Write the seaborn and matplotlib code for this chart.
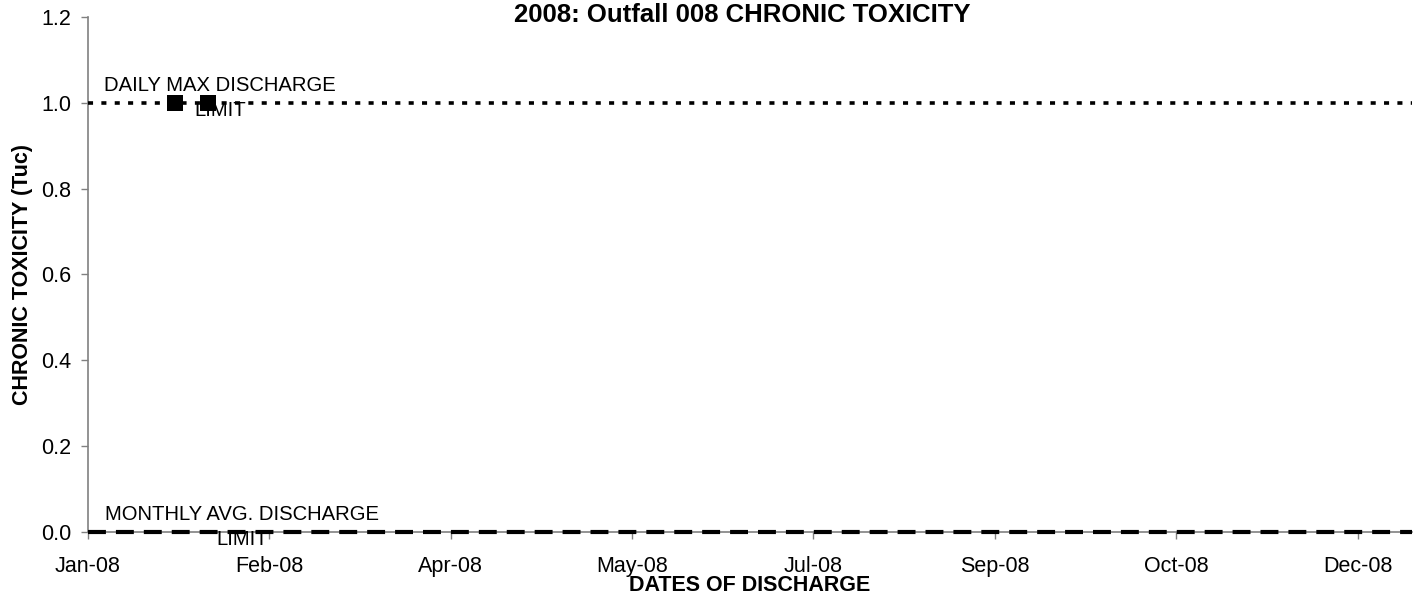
import numpy as np
import pandas as pd
import matplotlib
matplotlib.use("Agg")
from matplotlib import pyplot as plt
import matplotlib.dates as mdates
import seaborn as sns

# data
sample_dates = ["2008-01-25", "2008-02-03"]
toxicity_tuc = [1.0, 1.0]
axis_start = "2008-01-01"
axis_end = "2008-12-31"
daily_max_limit = 1.0
monthly_avg_limit = 0.0
tick_step_days = 50

sns.set_theme(style="white")
plt.rcParams['font.family'] = ['Liberation Sans', 'DejaVu Sans']
plt.rcParams['text.color'] = 'black'
plt.rcParams['axes.labelcolor'] = 'black'

fig = plt.figure(figsize=(14.14, 5.96), dpi=100)
ax = fig.add_axes([0.0622, 0.1074, 0.9364, 0.8641])

samples = pd.DataFrame({"date": pd.to_datetime(sample_dates), "tuc": toxicity_tuc})
limit_x = pd.to_datetime([axis_start, axis_end])
daily = pd.DataFrame({"date": limit_x, "value": [daily_max_limit] * 2})
monthly = pd.DataFrame({"date": limit_x, "value": [monthly_avg_limit] * 2})

sns.lineplot(data=daily, x="date", y="value", color="black", linewidth=2.6,
             linestyle=(0, (1.4, 2.3)), ax=ax, zorder=3, clip_on=False)
sns.lineplot(data=monthly, x="date", y="value", color="black", linewidth=3,
             linestyle=(0, (4.3, 2.4)), ax=ax, zorder=3, clip_on=False)
sns.scatterplot(data=samples, x="date", y="tuc", marker="s", s=128, color="black",
                edgecolor="black", linewidth=0, ax=ax, zorder=4, clip_on=False)

ax.annotate("DAILY MAX DISCHARGE\nLIMIT", (pd.Timestamp("2008-02-06 12:00"), daily_max_limit),
            xytext=(0, 3.5), textcoords="offset points", ha="center", va="center",
            fontsize=14.6, linespacing=1.36, zorder=5)
ax.annotate("MONTHLY AVG. DISCHARGE\nLIMIT", (pd.Timestamp("2008-02-12 12:00"), monthly_avg_limit),
            xytext=(0, 3.5), textcoords="offset points", ha="center", va="center",
            fontsize=14.6, linespacing=1.36, zorder=5)

ax.set_xlim(pd.Timestamp(axis_start), pd.Timestamp(axis_end))
ax.set_ylim(0, 1.2)
ticks = pd.date_range(axis_start, axis_end, freq=f"{tick_step_days}D")
ax.set_xticks(ticks)
ax.xaxis.set_major_formatter(mdates.DateFormatter("%b-%y"))
ax.set_yticks(np.arange(0, 1.21, 0.2))
ax.yaxis.set_major_formatter(matplotlib.ticker.FormatStrFormatter("%.1f"))

for side in ["top", "right"]:
    ax.spines[side].set_visible(False)
for side in ["left", "bottom"]:
    ax.spines[side].set_color("#808080")
    ax.spines[side].set_linewidth(1.2)
ax.tick_params(axis="both", which="major", direction="out", length=5, width=1,
               color="#808080", labelsize=15.5, labelcolor="black", bottom=True, left=True)
ax.tick_params(axis="x", pad=12.5)
ax.tick_params(axis="y", pad=7)

ax.set_xlabel("DATES OF DISCHARGE", fontsize=15.5, fontweight="bold", labelpad=-2)
ax.set_ylabel("CHRONIC TOXICITY (Tuc)", fontsize=15.5, fontweight="bold", labelpad=6)
ax.set_title("2008: Outfall 008 CHRONIC TOXICITY", fontsize=18.5, fontweight="bold",
             pad=-3.5, x=0.494)

fig.savefig("out.png", dpi=100)
